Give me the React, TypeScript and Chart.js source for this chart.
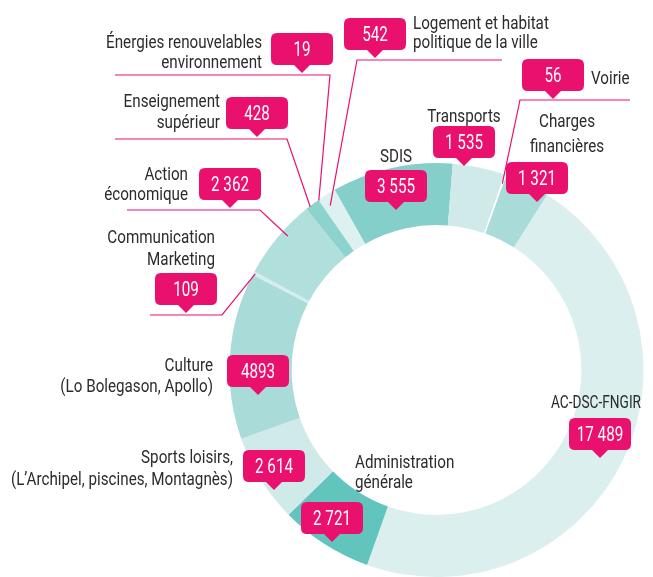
import React, { useEffect, useRef } from 'react';
import { Chart, registerables } from 'chart.js';

Chart.register(...registerables);

// ---- Data ----
const categories = [
  'SDIS',
  'Transports',
  'Voirie',
  'Charges financières',
  'AC-DSC-FNGIR',
  'Administration générale',
  'Sports loisirs',
  'Culture',
  'Communication Marketing',
  'Action économique',
  'Enseignement supérieur',
  'Énergies renouvelables environnement',
  'Logement et habitat politique de la ville',
];
const values = [3555, 1535, 56, 1321, 17489, 2721, 2614, 4893, 109, 2362, 428, 19, 542];
const valueLabels = ['3 555', '1 535', '56', '1 321', '17 489', '2 721', '2 614', '4893', '109', '2 362', '428', '19', '542'];
const labelLines: string[][] = [
  ['SDIS'],
  ['Transports'],
  ['Voirie'],
  ['Charges', 'financières'],
  ['AC-DSC-FNGIR'],
  ['Administration', 'générale'],
  ['Sports loisirs,', '(L’Archipel, piscines, Montagnès)'],
  ['Culture', '(Lo Bolegason, Apollo)'],
  ['Communication', 'Marketing'],
  ['Action', 'économique'],
  ['Enseignement', 'supérieur'],
  ['Énergies renouvelables', 'environnement'],
  ['Logement et habitat', 'politique de la ville'],
];

// ---- Styles / layout ----
const segmentColors = [
  '#84cfc9', '#cfeae9', '#ffffff', '#a9dcd8', '#dbefee', '#62c5bd', '#d0eae9',
  '#a9dcd8', '#d3eeec', '#b1dfdb', '#8dd3cd', '#8dd3cd', '#dcf1f0',
];
const MAGENTA = '#e9106e';
const TEXT = '#2b2b2b';
const FONT = 'Roboto, "DejaVu Sans Condensed", sans-serif';
const LABEL_SIZE = 19;
const LABEL_SX = 0.8;
const NUM_SIZE = 20;
const NUM_SX = 0.76;

type LabelPos = { x: number; y: number; lh: number; align: CanvasTextAlign; sx?: number };
// y = baseline of first line
const labelPos: LabelPos[] = [
  { x: 396, y: 162, lh: 20, align: 'center' },
  { x: 464, y: 122, lh: 20, align: 'center' },
  { x: 591, y: 84, lh: 20, align: 'left' },
  { x: 567, y: 127, lh: 25, align: 'center' },
  { x: 596, y: 408, lh: 20, align: 'center', sx: 0.72 },
  { x: 355, y: 468, lh: 20, align: 'left' },
  { x: 233, y: 463, lh: 22, align: 'right' },
  { x: 213, y: 371, lh: 21, align: 'right' },
  { x: 215, y: 243, lh: 22, align: 'right' },
  { x: 188, y: 180, lh: 20, align: 'right' },
  { x: 220, y: 107, lh: 21, align: 'right' },
  { x: 262, y: 48, lh: 20, align: 'right' },
  { x: 413, y: 29, lh: 19, align: 'left' },
];
const bubbleTips: [number, number][] = [
  [396, 210], [464, 166], [553, 99], [537, 202], [600, 458], [332, 542], [274, 490],
  [258, 395], [186, 313], [230, 208], [257, 137], [302, 73], [375, 58],
];
type Leader = { t: number; rf: number; ex: number; ey: number; endX: number } | null;
const leaders: Leader[] = [
  null,
  null,
  { t: 0.5, rf: 0.85, ex: 520, ey: 100, endX: 630 },
  null,
  null,
  null,
  null,
  null,
  { t: 0.5, rf: 0.97, ex: 222, ey: 315, endX: 150 },
  { t: 0.6, rf: 0.89, ex: 260, ey: 210, endX: 127 },
  { t: 0.3, rf: 0.99, ex: 287, ey: 139, endX: 115 },
  { t: 0.5, rf: 0.99, ex: 330, ey: 75, endX: 115 },
  { t: 0.35, rf: 0.82, ex: 357, ey: 60, endX: 502 },
];

function drawScaledText(
  ctx: CanvasRenderingContext2D,
  text: string,
  x: number,
  y: number,
  align: CanvasTextAlign,
  sx: number
) {
  ctx.save();
  ctx.translate(x, y);
  ctx.scale(sx, 1);
  ctx.textAlign = align;
  ctx.fillText(text, 0, 0);
  ctx.restore();
}

const annotationPlugin = {
  id: 'annotations',
  afterDraw(chart: any) {
    const ctx: CanvasRenderingContext2D = chart.ctx;
    const meta = chart.getDatasetMeta(0);
    ctx.save();
    // leader lines
    ctx.strokeStyle = MAGENTA;
    ctx.lineWidth = 1.2;
    leaders.forEach((ld, i) => {
      if (!ld) return;
      const arc = meta.data[i];
      const p = arc.getProps(['x', 'y', 'startAngle', 'endAngle', 'innerRadius', 'outerRadius'], true);
      const a = p.startAngle + ld.t * (p.endAngle - p.startAngle);
      const r = p.innerRadius + ld.rf * (p.outerRadius - p.innerRadius);
      const ax = p.x + Math.cos(a) * r;
      const ay = p.y + Math.sin(a) * r;
      ctx.beginPath();
      ctx.moveTo(ax, ay);
      ctx.lineTo(ld.ex, ld.ey);
      ctx.lineTo(ld.endX, ld.ey);
      ctx.stroke();
    });
    // labels
    ctx.fillStyle = TEXT;
    ctx.font = `${LABEL_SIZE}px ${FONT}`;
    ctx.textBaseline = 'alphabetic';
    labelLines.forEach((lines, i) => {
      const lp = labelPos[i];
      lines.forEach((line, k) =>
        drawScaledText(ctx, line, lp.x, lp.y + k * lp.lh, lp.align, lp.sx ?? LABEL_SX)
      );
    });
    // bubbles
    const bw = 62, bh = 32, th = 8, tw = 8, rad = 6;
    valueLabels.forEach((txt, i) => {
      const [tx, ty] = bubbleTips[i];
      const left = tx - bw / 2, top = ty - th - bh, bottom = ty - th, right = tx + bw / 2;
      ctx.fillStyle = MAGENTA;
      ctx.beginPath();
      ctx.moveTo(left + rad, top);
      ctx.lineTo(right - rad, top);
      ctx.quadraticCurveTo(right, top, right, top + rad);
      ctx.lineTo(right, bottom - rad);
      ctx.quadraticCurveTo(right, bottom, right - rad, bottom);
      ctx.lineTo(tx + tw, bottom);
      ctx.lineTo(tx, ty);
      ctx.lineTo(tx - tw, bottom);
      ctx.lineTo(left + rad, bottom);
      ctx.quadraticCurveTo(left, bottom, left, bottom - rad);
      ctx.lineTo(left, top + rad);
      ctx.quadraticCurveTo(left, top, left + rad, top);
      ctx.closePath();
      ctx.fill();
      ctx.fillStyle = '#ffffff';
      ctx.font = `${NUM_SIZE}px ${FONT}`;
      ctx.textBaseline = 'alphabetic';
      drawScaledText(ctx, txt, tx, top + bh / 2 + 7, 'center', NUM_SX);
    });
    ctx.restore();
  },
};

export default function App() {
  const ref = useRef<HTMLCanvasElement>(null);
  useEffect(() => {
    if (!ref.current) return;
    const chart = new Chart(ref.current, {
      type: 'doughnut',
      data: {
        labels: categories,
        datasets: [
          {
            data: values,
            backgroundColor: segmentColors,
            borderWidth: 0,
          },
        ],
      },
      options: {
        responsive: false,
        animation: false,
        rotation: -29.5,
        cutout: '70%',
        layout: { padding: { left: 229, right: 9, top: 163, bottom: 0 } },
        plugins: { legend: { display: false }, tooltip: { enabled: false } },
      },
      plugins: [annotationPlugin],
    });
    return () => chart.destroy();
  }, []);
  return (
    <div style={{ position: 'fixed', left: 0, top: 0, width: 653, height: 577, background: '#fff' }}>
      <canvas ref={ref} width={653} height={577} />
    </div>
  );
}
